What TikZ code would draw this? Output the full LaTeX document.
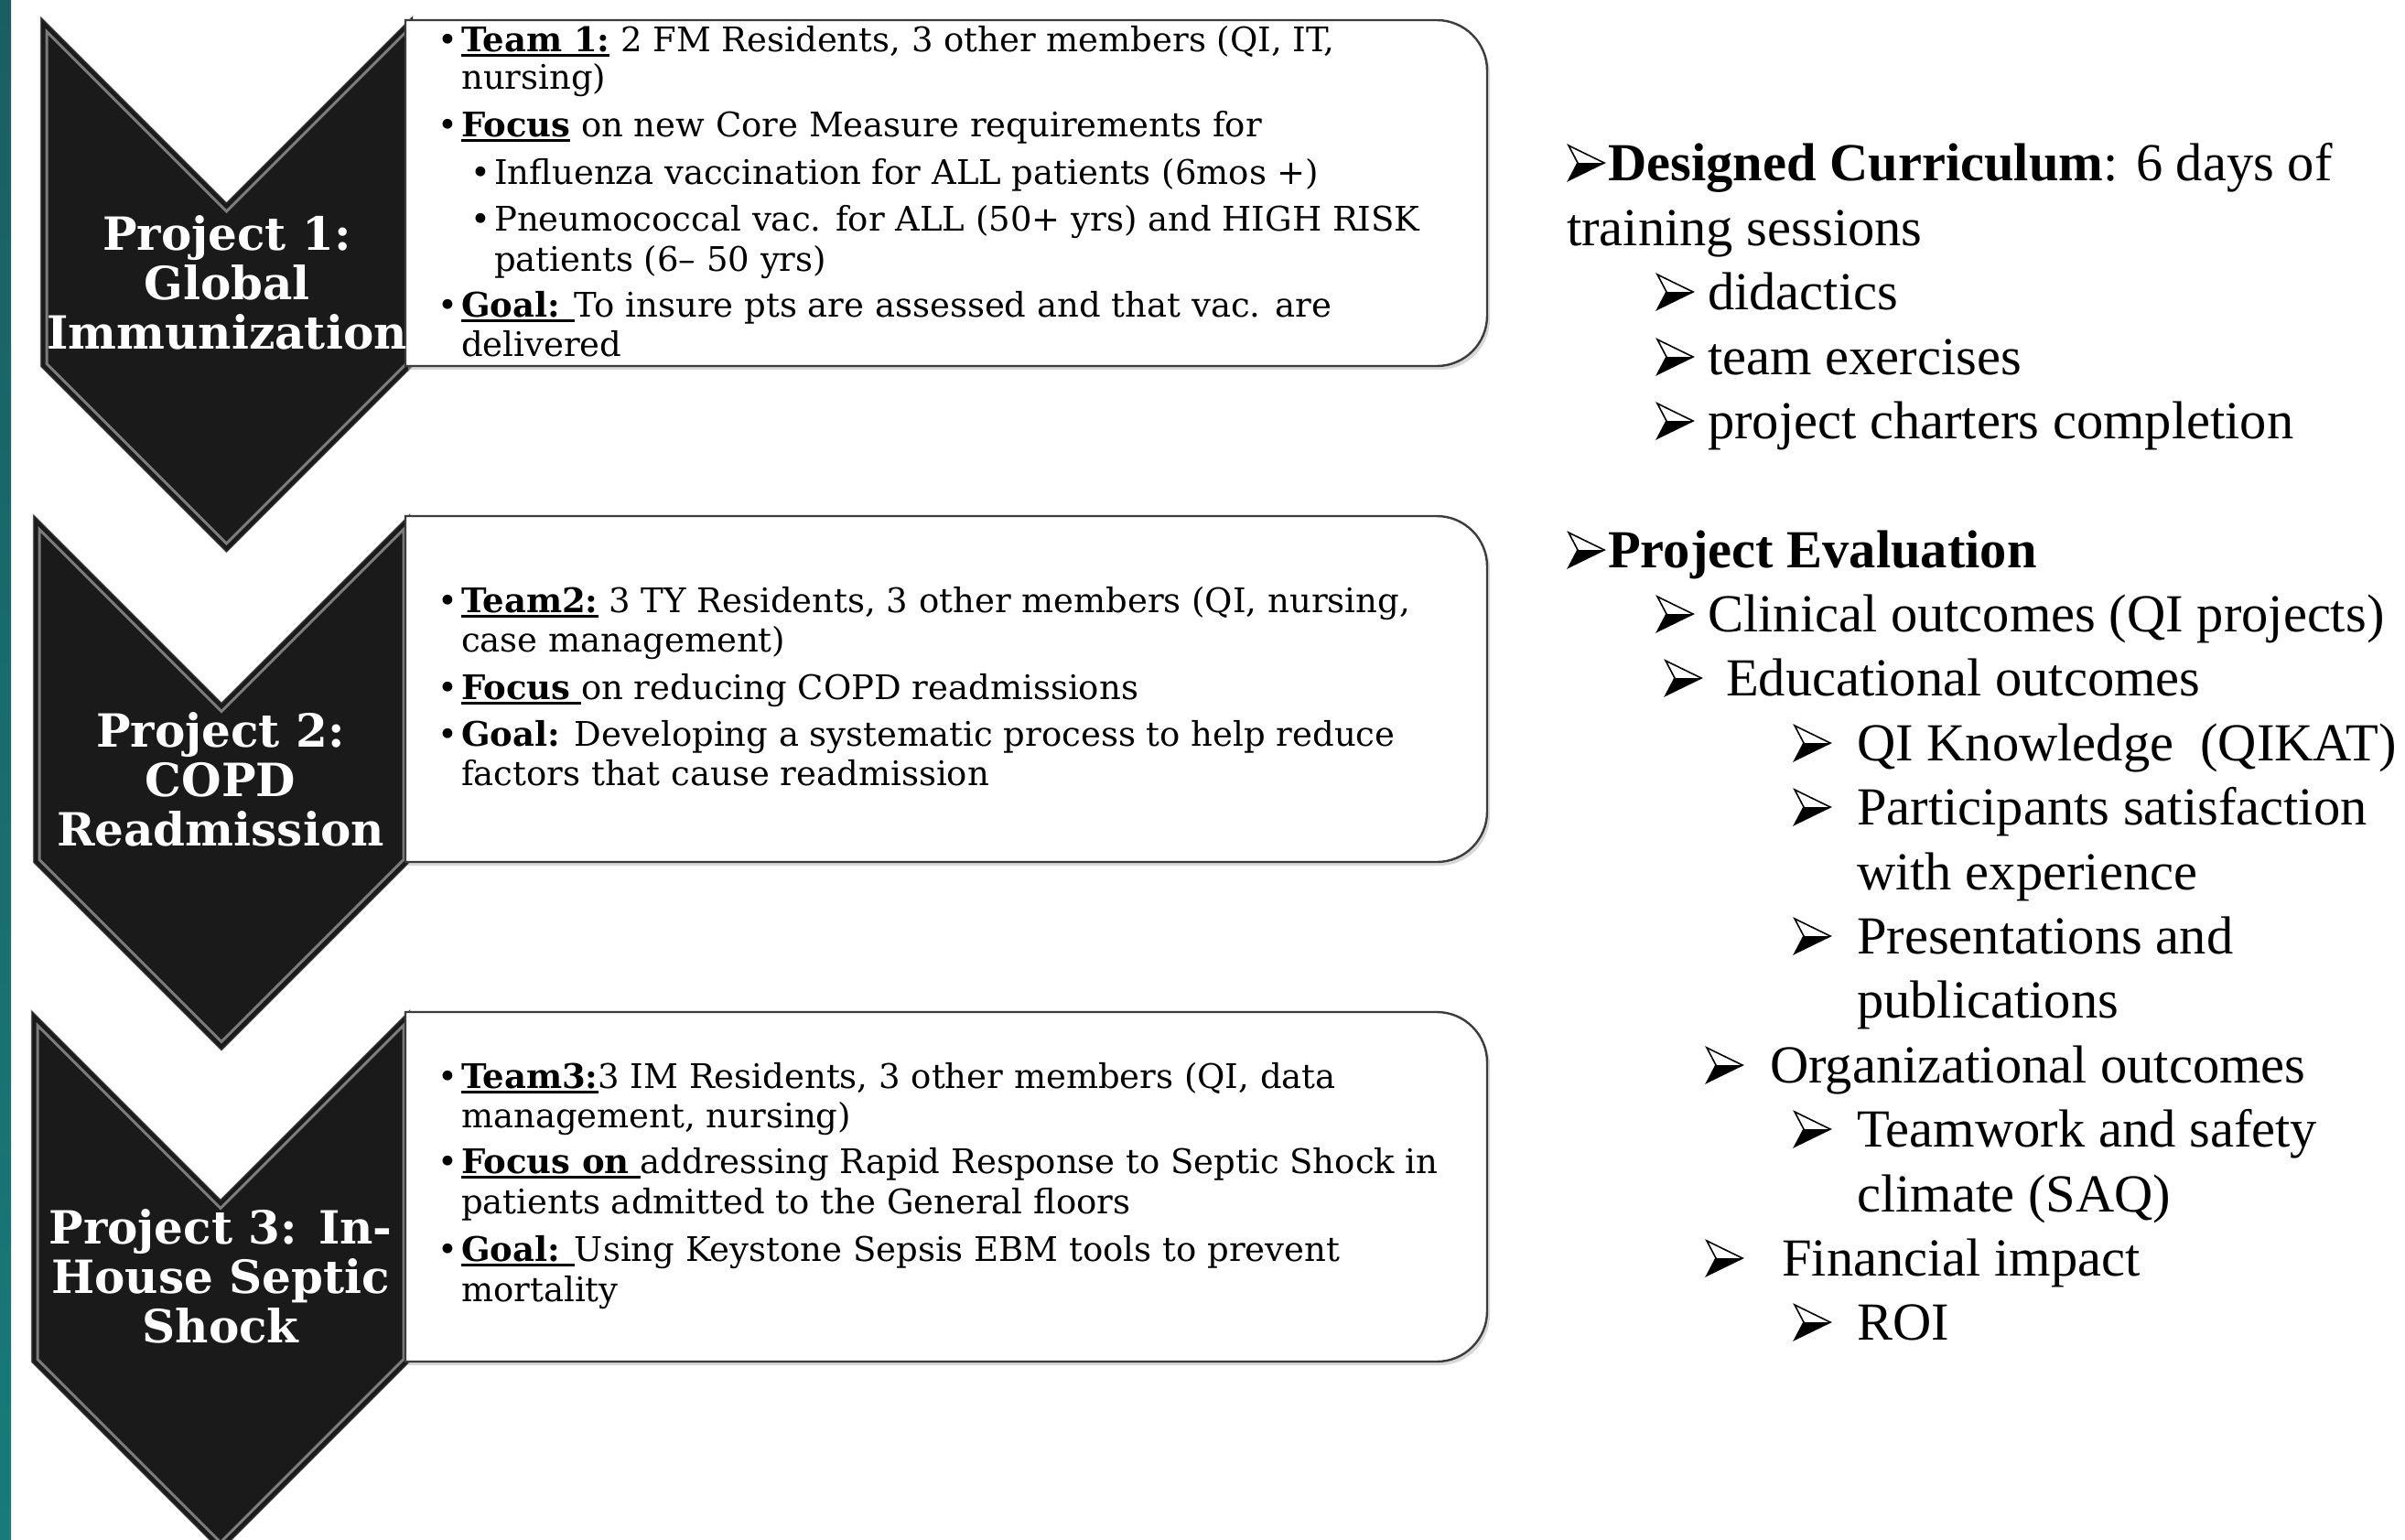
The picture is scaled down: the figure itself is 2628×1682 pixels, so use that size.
\documentclass[tikz,border=0pt]{standalone}
\usepackage{fontspec}
\setmainfont{DejaVu Serif}
\newfontfamily\rightfont{Liberation Serif}

\definecolor{tealtop}{HTML}{1A5E63}
\definecolor{tealbot}{HTML}{187B79}
\definecolor{chevbody}{HTML}{1A1A1A}
\definecolor{framegray}{HTML}{3C3C3C}

% thick underline that also covers a trailing space
\newcommand\undl[1]{\setbox0\hbox{#1}\rlap{\rule[-6pt]{\wd0}{2.6pt}}\box0\relax}
\newcommand\bul{\makebox[26pt][l]{•}}

\tikzset{
  boxtxt/.style={anchor=base west, inner sep=0pt, font=\fontsize{37}{43}\selectfont},
  evaltxt/.style={anchor=base west, inner sep=0pt, font=\rightfont\fontsize{58.5}{70}\selectfont},
  chevtxt/.style={anchor=north, text=white, align=center, inner sep=0pt,
    font=\bfseries\fontsize{50}{54}\selectfont},
  chevfill/.style={fill=chevbody},
  chevglow/.style={draw=black!20, line width=3pt, line join=miter},
  chevedge/.style={draw=black!85, line width=1.5pt, line join=miter},
  chevbevel/.style={draw=black!45, line width=3pt, line join=miter, opacity=0.85},
  boxframe/.style={draw=framegray, line width=2.4pt, fill=white},
  boxshadow/.style={fill=black!30, opacity=0.5},
  arrowmark/.pic={
    \fill[white] (0,-38) -- (39,-19) -- (10,-19) -- cycle;
    \fill[black] (10,-19) -- (39,-19) -- (0,0) -- cycle;
    \draw[black, line width=1.6pt, line join=miter] (0,-38) -- (39,-19) -- (0,0) -- (10,-19) -- cycle;
  }
}

\begin{document}
\begin{tikzpicture}[x=1pt,y=-1pt]
\useasboundingbox (0,0) rectangle (2628,1682);
\clip (0,0) rectangle (2628,1682);
\fill[white] (0,0) rectangle (2628,1682);

% teal strip on the left edge
\shade[top color=tealtop, bottom color=tealbot] (0,0) rectangle (12,1682);

% the three chevrons
\foreach \L/\R/\T/\B in {45/450/20/400, 37/447/564/942, 35/447/1106/1488}{
  \pgfmathsetmacro\C{(\L+\R)/2}
  \pgfmathsetmacro\H{(\R-\L)/2}
  \path[chevglow] (\L,\T) -- (\C,\T+\H) -- (\R,\T) -- (\R,\B) -- (\C,\B+\H) -- (\L,\B) -- cycle;
  \path[chevfill,chevedge] (\L,\T) -- (\C,\T+\H) -- (\R,\T) -- (\R,\B) -- (\C,\B+\H) -- (\L,\B) -- cycle;
  \path[chevbevel] (\L+6,\T+14.5) -- (\C,\T+\H+8.5) -- (\R-6,\T+14.5) -- (\R-6,\B-2.5) -- (\C,\B+\H-8.5) -- (\L+6,\B-2.5) -- cycle;
}

% text panels with rounded right corners
\foreach \T/\B in {22/400, 564/942, 1106/1488}{
  \fill[boxshadow] (446,\T+4) -- (1573,\T+4) arc[start angle=90,end angle=0,radius=55pt]
     -- (1628,\B-51) arc[start angle=0,end angle=-90,radius=55pt] -- (446,\B+4) -- cycle;
  \path[boxframe] (443,\T) -- (1570,\T) arc[start angle=90,end angle=0,radius=55pt]
     -- (1625,\B-55) arc[start angle=0,end angle=-90,radius=55pt] -- (443,\B) -- cycle;
}

% chevron labels
\node[chevtxt] (p1) at (248,235) {Project 1:\\Global\\Immunization};
\node[chevtxt] (p2) at (241,778) {Project 2:\\COPD\\Readmission};
\node[chevtxt] (p3) at (241,1321) {Project 3: In-\\House Septic\\Shock};

% panel 1
\node[boxtxt] (a1) at (478,56) {\bul\undl{\textbf{Team 1:}} 2 FM Residents, 3 other members (QI, IT,};
\node[boxtxt] (a2) at (504,97) {nursing)};
\node[boxtxt] (a3) at (478,149) {\bul\undl{\textbf{Focus}} on new Core Measure requirements for};
\node[boxtxt] (a4) at (514,201) {\bul Influenza vaccination for ALL patients (6mos +)};
\node[boxtxt] (a5) at (514,252) {\bul Pneumococcal vac. for ALL (50+ yrs) and HIGH RISK};
\node[boxtxt] (a6) at (540,296) {patients (6– 50 yrs)};
\node[boxtxt] (a7) at (478,346) {\bul\undl{\textbf{Goal:} }To insure pts are assessed and that vac. are};
\node[boxtxt] (a8) at (504,389) {delivered};

% panel 2
\node[boxtxt] (b1) at (478,669) {\bul\undl{\textbf{Team2:}} 3 TY Residents, 3 other members (QI, nursing,};
\node[boxtxt] (b2) at (504,712) {case management)};
\node[boxtxt] (b3) at (478,764) {\bul\undl{\textbf{Focus} }on reducing COPD readmissions};
\node[boxtxt] (b4) at (478,815) {\bul\textbf{Goal:} Developing a systematic process to help reduce};
\node[boxtxt] (b5) at (504,858) {factors that cause readmission};

% panel 3
\node[boxtxt] (c1) at (478,1189) {\bul\undl{\textbf{Team3:}}3 IM Residents, 3 other members (QI, data};
\node[boxtxt] (c2) at (504,1232) {management, nursing)};
\node[boxtxt] (c3) at (478,1282) {\bul\undl{\textbf{Focus on} }addressing Rapid Response to Septic Shock in};
\node[boxtxt] (c4) at (504,1326) {patients admitted to the General floors};
\node[boxtxt] (c5) at (478,1378) {\bul\undl{\textbf{Goal:} }Using Keystone Sepsis EBM tools to prevent};
\node[boxtxt] (c6) at (504,1422) {mortality};

% curriculum and evaluation list
\pic at (1714,197) {arrowmark};
\node[evaltxt] (r1) at (1757,197) {\textbf{Designed Curriculum}: 6 days of};
\node[evaltxt] (r2) at (1712,268) {training sessions};
\pic at (1811,338) {arrowmark};
\node[evaltxt] (r3) at (1866,338) {didactics};
\pic at (1811,409) {arrowmark};
\node[evaltxt] (r4) at (1866,409) {team exercises};
\pic at (1811,479) {arrowmark};
\node[evaltxt] (r5) at (1866,479) {project charters completion};

\pic at (1714,620) {arrowmark};
\node[evaltxt] (r6) at (1757,620) {\textbf{Project Evaluation}};
\pic at (1811,690) {arrowmark};
\node[evaltxt] (r7) at (1866,690) {Clinical outcomes (QI projects)};
\pic at (1820,760) {arrowmark};
\node[evaltxt] (r8) at (1886,760) {Educational outcomes};
\pic at (1961,831) {arrowmark};
\node[evaltxt] (r9) at (2029,831) {QI Knowledge~~(QIKAT)};
\pic at (1961,901) {arrowmark};
\node[evaltxt] (r10) at (2029,901) {Participants satisfaction};
\node[evaltxt] (r11) at (2029,972) {with experience};
\pic at (1961,1042) {arrowmark};
\node[evaltxt] (r12) at (2029,1042) {Presentations and};
\node[evaltxt] (r13) at (2029,1112) {publications};
\pic at (1865,1183) {arrowmark};
\node[evaltxt] (r14) at (1934,1183) {Organizational outcomes};
\pic at (1961,1253) {arrowmark};
\node[evaltxt] (r15) at (2029,1253) {Teamwork and safety};
\node[evaltxt] (r16) at (2029,1324) {climate (SAQ)};
\pic at (1865,1394) {arrowmark};
\node[evaltxt] (r17) at (1947,1394) {Financial impact};
\pic at (1961,1464) {arrowmark};
\node[evaltxt] (r18) at (2029,1464) {ROI};
\end{tikzpicture}
\end{document}
